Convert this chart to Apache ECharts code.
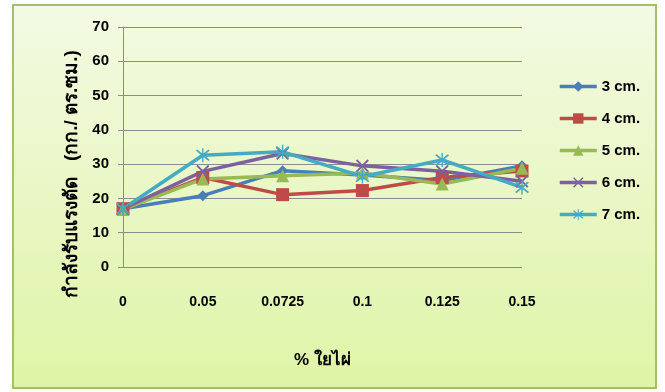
<!DOCTYPE html>
<html>
<head>
<meta charset="utf-8">
<script src="https://cdn.jsdelivr.net/npm/echarts@6/dist/echarts.min.js"></script>
<style>
  html, body { margin: 0; padding: 0; background: #ffffff; }
  #chart { width: 665px; height: 392px; }
</style>
</head>
<body>
<div id="chart"></div>
<script>
// values
var categories = ['0', '0.05', '0.0725', '0.1', '0.125', '0.15'];
var names = ['3 cm.', '4 cm.', '5 cm.', '6 cm.', '7 cm.'];
var cm3 = [17, 20.8, 28.1, 26.8, 25.2, 29.5];
var cm4 = [17, 26.1, 21.1, 22.3, 26.1, 28];
var cm5 = [16.8, 25.7, 26.6, 27.4, 24.2, 28.8];
var cm6 = [17, 27.9, 33.1, 29.5, 27.9, 25];
var cm7 = [17, 32.6, 33.6, 26.4, 31.2, 23.2];
var yTicks = [0, 10, 20, 30, 40, 50, 60, 70];

var colors = ['#4a7ebb', '#be4b48', '#98b954', '#7d60a0', '#46aac5'];

var xMark = 'path://M0,1 L1,0 L5,4 L9,0 L10,1 L6,5 L10,9 L9,10 L5,6 L1,10 L0,9 L4,5 Z';
var starMark = 'path://M0,1 L1,0 L5,4 L9,0 L10,1 L6,5 L10,9 L9,10 L5,6 L1,10 L0,9 L4,5 Z M4.5,-1 L5.5,-1 L5.5,11 L4.5,11 Z';

var symbols = ['diamond', 'rect', 'triangle', xMark, starMark];
var sizes = [11, 13, 13, 13, 14];

var myChart = echarts.init(document.getElementById('chart'));

var series = [cm3, cm4, cm5, cm6, cm7].map(function(d, i) {
    return {
        name: names[i],
        type: 'line',
        data: d,
        symbol: symbols[i],
        symbolSize: sizes[i],
        lineStyle: { width: 3.5, color: colors[i] },
        itemStyle: { color: colors[i] }
    };
});

var option = {
    animation: false,
    color: colors,
    textStyle: { fontFamily: 'Liberation Sans, sans-serif' },
    graphic: [{
        type: 'rect',
        z: -10,
        shape: { x: 13, y: 5, width: 643, height: 383 },
        style: {
            fill: new echarts.graphic.LinearGradient(0, 0, 0, 1, [
                { offset: 0, color: '#f3fae3' },
                { offset: 1, color: '#dff4a6' }
            ]),
            stroke: '#a6bf6a',
            lineWidth: 2
        },
        silent: true
    }, {
        type: 'text',
        x: 72,
        y: 174,
        rotation: Math.PI / 2,
        style: {
            text: 'กำลังรับแรงตัด   (กก./ ตร.ซม.)',
            fontSize: 19,
            fontWeight: 'bold',
            fill: '#000',
            align: 'center',
            verticalAlign: 'middle'
        }
    }],
    legend: {
        orient: 'vertical',
        left: 553,
        top: 74,
        itemWidth: 37,
        itemHeight: 13,
        itemGap: 17,
        data: names,
        lineStyle: { width: 3.5 },
        textStyle: { fontSize: 15, fontWeight: 'bold', color: '#000', fontFamily: 'Liberation Sans Narrow, Liberation Sans, sans-serif' }
    },
    grid: { left: 123, right: 143, top: 27, bottom: 125 },
    xAxis: {
        type: 'category',
        data: categories,
        boundaryGap: false,
        name: '% ใยไผ่',
        nameLocation: 'middle',
        nameGap: 85,
        nameTextStyle: { fontSize: 17, fontWeight: 'bold', color: '#000' },
        axisLine: { show: false },
        axisTick: { show: false },
        axisLabel: { margin: 28, fontSize: 14, fontWeight: 'bold', color: '#000' }
    },
    yAxis: {
        type: 'value',
        min: yTicks[0],
        max: yTicks[yTicks.length - 1],
        interval: 10,
        axisLine: { show: true, lineStyle: { color: '#8c8c8c' } },
        axisTick: { show: true, length: 5, lineStyle: { color: '#8c8c8c' } },
        splitLine: { lineStyle: { color: '#8c8c8c', width: 1 } },
        axisLabel: { margin: 14, fontSize: 15, fontWeight: 'bold', color: '#000' }
    },
    series: series
};

myChart.setOption(option);
</script>
</body>
</html>
